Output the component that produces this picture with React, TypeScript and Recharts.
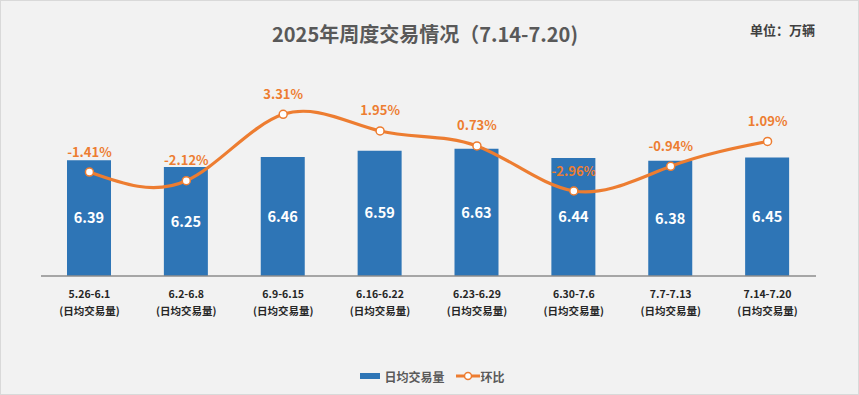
import React from 'react';
import { ComposedChart, Bar, Line, XAxis, YAxis, Legend, LabelList } from 'recharts';

const weeks = ['5.26-6.1', '6.2-6.8', '6.9-6.15', '6.16-6.22', '6.23-6.29', '6.30-7.6', '7.7-7.13', '7.14-7.20'];
const dailyVolume = [6.39, 6.25, 6.46, 6.59, 6.63, 6.44, 6.38, 6.45];
const weekOnWeek = [-1.41, -2.12, 3.31, 1.95, 0.73, -2.96, -0.94, 1.09];

const data = weeks.map((week, i) => ({
    week,
    volume: dailyVolume[i],
    change: weekOnWeek[i],
}));

const FONT = '"Noto Sans CJK SC", "Noto Sans", sans-serif';
const BLUE = '#2e75b6';
const ORANGE = '#ed7d31';

const WeekTick = (props: any) => {
    const { x, y, payload } = props;
    return (
        <g>
            <text x={x} y={y + 17} textAnchor="middle" dominantBaseline="central" fontSize={10.5} fontWeight="bold" fill="#262626">
                {payload.value}
            </text>
            <text x={x} y={y + 34} textAnchor="middle" dominantBaseline="central" fontSize={10.5} fontWeight="bold" fill="#262626">
                (日均交易量)
            </text>
        </g>
    );
};

const ChangeLabel = (props: any) => {
    const { x, y, value } = props;
    return (
        <text x={x} y={y - 21} textAnchor="middle" dominantBaseline="central" fontSize={13} fontWeight="bold" fill={ORANGE}>
            {value.toFixed(2)}%
        </text>
    );
};

const LegendBox = () => (
    <div style={{ display: 'flex', justifyContent: 'center', alignItems: 'center', height: 20, paddingLeft: 8, fontSize: 12, fontWeight: 'bold', color: '#595959' }}>
        <span style={{ display: 'inline-block', width: 20, height: 6, background: BLUE, marginRight: 4 }} />
        <span style={{ marginRight: 11 }}>日均交易量</span>
        <svg width={24} height={10} style={{ marginRight: 1 }}>
            <line x1={0} y1={5} x2={24} y2={5} stroke={ORANGE} strokeWidth={3} />
            <circle cx={12} cy={5} r={3.5} fill="#fff" stroke={ORANGE} strokeWidth={1.5} />
        </svg>
        <span>环比</span>
    </div>
);

export default function App() {
    return (
        <div
            style={{
                position: 'absolute',
                left: 0,
                top: 0,
                width: 859,
                height: 395,
                boxSizing: 'border-box',
                border: '1px solid #d9d9d9',
                background: '#f2f2f2',
                fontFamily: FONT,
            }}
        >
            <div style={{ position: 'absolute', left: 0, width: 848, top: 19, textAlign: 'center', fontSize: 20, fontWeight: 'bold', color: '#595959', lineHeight: '28px' }}>
                2025年周度交易情况（7.14-7.20)
            </div>
            <div style={{ position: 'absolute', left: 749, top: 20, fontSize: 13, fontWeight: 'bold', color: '#404040', lineHeight: '18px' }}>
                单位：万辆
            </div>
            <ComposedChart
                width={857}
                height={393}
                data={data}
                margin={{ top: 49, right: 42, left: 40, bottom: 48 }}
                style={{ fontFamily: FONT }}
            >
                <XAxis
                    dataKey="week"
                    height={50}
                    tickLine={false}
                    tickSize={0}
                    tickMargin={0}
                    axisLine={{ stroke: '#8c8c8c', strokeWidth: 1.5 }}
                    tick={<WeekTick />}
                    interval={0}
                />
                <YAxis yAxisId="vol" hide domain={[4, 8.67]} allowDataOverflow />
                <YAxis yAxisId="chg" hide orientation="right" domain={[-9.91, 8.57]} allowDataOverflow />
                <Legend verticalAlign="bottom" content={<LegendBox />} wrapperStyle={{ bottom: 8 }} />
                <Bar yAxisId="vol" dataKey="volume" name="日均交易量" fill={BLUE} barSize={44} isAnimationActive={false}>
                    <LabelList dataKey="volume" position="center" fill="#fff" fontSize={14.5} fontWeight="bold" />
                </Bar>
                <Line
                    yAxisId="chg"
                    type="natural"
                    dataKey="change"
                    name="环比"
                    stroke={ORANGE}
                    strokeWidth={3.2}
                    dot={{ r: 4, fill: '#fff', stroke: ORANGE, strokeWidth: 1.5 }}
                    isAnimationActive={false}
                >
                    <LabelList dataKey="change" content={<ChangeLabel />} />
                </Line>
            </ComposedChart>
        </div>
    );
}
